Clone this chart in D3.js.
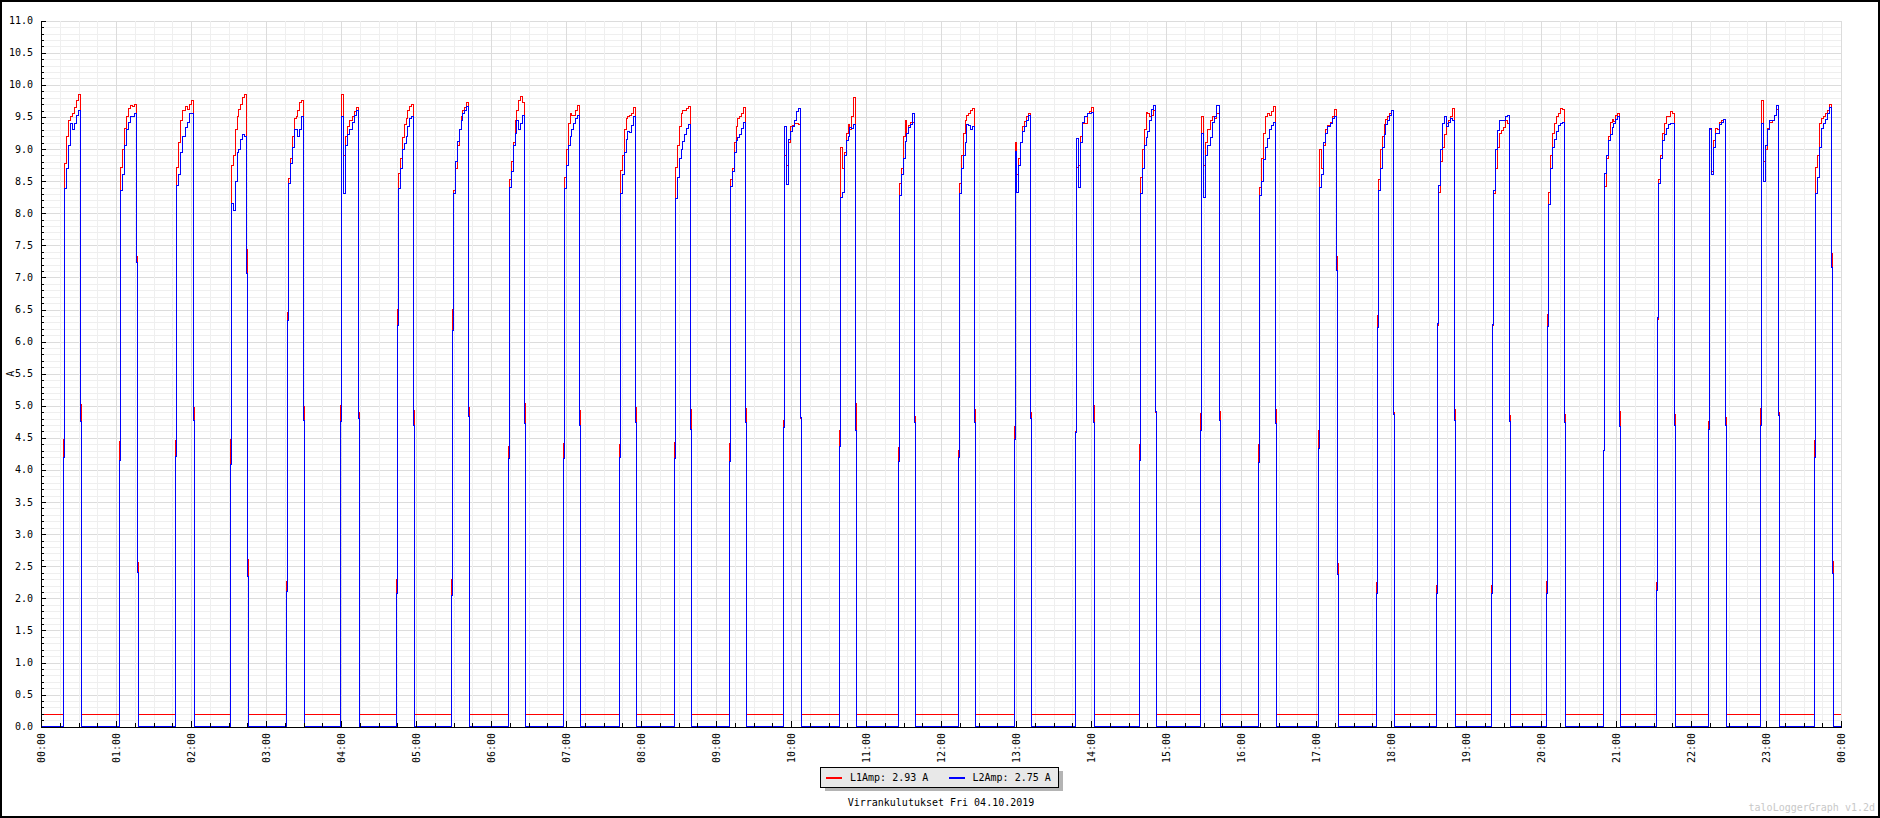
<!DOCTYPE html>
<html>
<head>
<meta charset="utf-8">
<script src="https://cdn.jsdelivr.net/npm/d3@7"></script>
<style>
    html, body { margin: 0; padding: 0; background: #fff; }
    svg { display: block; }
    text { font-family: "DejaVu Sans Mono", monospace; font-size: 10px; fill: #000; }
</style>
</head>
<body>
<div id="chart"></div>
<script>
// Cycle timing, minutes after midnight (main rise and fall of the run)
const runStart = [18.7, 63.5, 108.3, 152.3, 198.1, 240.3, 286.1, 330.1, 374.7, 418.7, 463.5, 507.5, 551.5, 595, 639.7, 686.7,
    734.7, 779.2, 828.3, 879.5, 928, 974.7, 1022.7, 1069.9, 1117.9, 1161.9, 1205.9, 1250.7, 1293.9, 1334.7, 1376.3, 1419.5];
const runEnd = [31.5, 76.3, 122.1, 164.3, 209.9, 253.9, 297.9, 341.9, 386.7, 430.7, 475.5, 519.5, 563.5, 607.5, 651.5, 698.7,
    746.7, 791.5, 841.9, 891.5, 942.4, 987.5, 1036.3, 1081.9, 1130.7, 1174.7, 1218.7, 1262.9, 1306.7, 1347.5, 1389.9, 1432.3];

// idle level
const l1Idle = 0.19;
const l2Idle = 0.0;

// samples while switching on / off
const l1Up = [[4.48], [4.44], [4.46], [4.47], [2.27, 6.46], [5.0], [2.29, 6.5], [2.29, 6.5], [4.36], [4.41], [4.4], [4.43], [4.41], [4.77], [4.61], [4.35],
    [4.3], [4.68], [4.6], [4.4], [4.88], [4.4], [4.61], [2.24, 6.4], [2.2, 6.25], [2.2, 6.25], [2.26, 6.43], [4.3], [2.24, 6.35], [4.75], [4.96], [4.46]];
const l2Up = [[4.19], [4.14], [4.21], [4.08], [2.1, 6.33], [4.75], [2.07, 6.25], [2.05, 6.18], [4.18], [4.18], [4.19], [4.18], [4.13], [4.66], [4.36], [4.13],
    [4.2], [4.47], [4.58], [4.15], [4.61], [4.11], [4.33], [2.07, 6.22], [2.08, 6.28], [2.08, 6.27], [2.07, 6.24], [4.3], [2.12, 6.37], [4.63], [4.7], [4.19]];
const l1Down = [[5.02], [7.32, 2.56], [4.97], [7.44, 2.6], [4.99], [4.9], [4.93], [4.97], [5.04], [4.93], [4.97], [4.94], [4.96], [4.8], [5.04], [4.83],
    [4.94], [4.9], [5.0], [4.9], [4.91], [4.94], [7.32, 2.55], [4.9], [4.95], [4.85], [4.86], [4.91], [4.86], [4.82], [4.9], [7.38, 2.57]];
const l2Down = [[4.76], [7.24, 2.4], [4.77], [7.06, 2.34], [4.77], [4.8], [4.7], [4.83], [4.73], [4.7], [4.74], [4.63], [4.74], [4.82], [4.61], [4.74],
    [4.74], [4.8], [4.74], [4.91], [4.77], [4.72], [7.11, 2.37], [4.86], [4.77], [4.75], [4.74], [4.68], [4.7], [4.7], [4.85], [7.16, 2.38]];

// running current, read across each run
const l1Run = [
    [8.78, 9.2, 9.45, 9.5, 9.55, 9.65, 9.75, 9.85],
    [8.72, 9.0, 9.32, 9.5, 9.63, 9.68, 9.66, 9.7],
    [8.72, 9.1, 9.45, 9.6, 9.66, 9.62, 9.7, 9.76],
    [8.75, 8.9, 9.3, 9.5, 9.62, 9.7, 9.8, 9.85],
    [8.54, 8.85, 9.2, 9.48, 9.5, 9.6, 9.72, 9.76],
    [9.85, 8.9, 9.2, 9.35, 9.45, 9.5, 9.58, 9.64],
    [8.62, 8.85, 9.18, 9.38, 9.47, 9.6, 9.66, 9.7],
    [8.35, 8.7, 9.05, 9.3, 9.5, 9.6, 9.65, 9.72],
    [8.52, 8.8, 9.1, 9.45, 9.6, 9.75, 9.82, 9.72],
    [8.55, 9.0, 9.4, 9.56, 9.52, 9.52, 9.6, 9.68],
    [8.67, 8.9, 9.3, 9.47, 9.5, 9.52, 9.56, 9.65],
    [8.72, 9.05, 9.35, 9.55, 9.6, 9.6, 9.63, 9.66],
    [8.52, 8.7, 9.1, 9.35, 9.47, 9.5, 9.56, 9.65],
    [8.9, 8.75, 9.1, 9.35, 9.37, 9.4, 9.4, 9.38],
    [9.03, 8.7, 8.95, 9.24, 9.38, 9.3, 9.5, 9.8],
    [8.46, 8.7, 9.2, 9.45, 9.25, 9.36, 9.42, 9.42],
    [8.46, 8.9, 9.24, 9.45, 9.52, 9.55, 9.6, 9.63],
    [9.1, 8.6, 8.85, 9.1, 9.35, 9.43, 9.5, 9.55],
    [8.72, 8.75, 9.2, 9.4, 9.4, 9.55, 9.58, 9.65],
    [8.55, 9.0, 9.3, 9.57, 9.56, 9.5, 9.52, 9.6],
    [9.5, 8.75, 9.1, 9.3, 9.45, 9.5, 9.47, 9.55],
    [8.4, 8.85, 9.24, 9.5, 9.55, 9.53, 9.58, 9.66],
    [9.0, 8.7, 9.05, 9.3, 9.36, 9.42, 9.5, 9.62],
    [8.52, 9.0, 9.2, 9.38, 9.46, 9.5, 9.56, 9.6],
    [8.33, 8.8, 9.03, 9.22, 9.4, 9.44, 9.5, 9.63],
    [8.3, 8.7, 9.03, 9.25, 9.29, 9.34, 9.45, 9.4],
    [8.33, 8.9, 9.24, 9.4, 9.5, 9.56, 9.63, 9.62],
    [8.41, 8.85, 9.2, 9.42, 9.46, 9.43, 9.52, 9.56],
    [8.52, 8.9, 9.24, 9.4, 9.5, 9.5, 9.58, 9.56],
    [9.3, 8.65, 9.14, 9.32, 9.3, 9.41, 9.45, 9.46],
    [9.75, 8.8, 9.0, 9.32, 9.41, 9.45, 9.52, 9.62],
    [8.72, 8.9, 9.4, 9.48, 9.5, 9.56, 9.6, 9.7]
];
const l2Run = [
    [8.38, 8.7, 9.06, 9.4, 9.3, 9.4, 9.53, 9.6],
    [8.35, 8.6, 9.05, 9.3, 9.42, 9.5, 9.5, 9.55],
    [8.44, 8.6, 8.95, 9.2, 9.33, 9.42, 9.55, 9.55],
    [8.15, 8.05, 8.5, 8.95, 9.0, 9.15, 9.22, 9.2],
    [8.46, 8.77, 9.03, 9.3, 9.3, 9.2, 9.3, 9.5],
    [9.5, 8.3, 9.05, 9.22, 9.3, 9.42, 9.52, 9.6],
    [8.38, 8.7, 9.0, 9.08, 9.2, 9.35, 9.48, 9.5],
    [8.3, 8.8, 9.12, 9.3, 9.45, 9.55, 9.6, 9.66],
    [8.4, 8.65, 9.05, 9.25, 9.45, 9.3, 9.4, 9.52],
    [8.38, 8.75, 9.05, 9.2, 9.3, 9.4, 9.48, 9.53],
    [8.3, 8.6, 8.95, 9.15, 9.27, 9.26, 9.37, 9.5],
    [8.23, 8.55, 8.85, 9.0, 9.12, 9.22, 9.32, 9.38],
    [8.41, 8.65, 8.95, 9.14, 9.18, 9.22, 9.32, 9.42],
    [9.35, 8.45, 9.15, 9.28, 9.35, 9.45, 9.58, 9.63],
    [8.25, 8.32, 8.9, 9.14, 9.2, 9.33, 9.32, 9.38],
    [8.28, 8.6, 8.85, 9.12, 9.25, 9.33, 9.38, 9.55],
    [8.3, 8.7, 8.9, 9.1, 9.38, 9.37, 9.3, 9.35],
    [8.96, 8.33, 8.75, 9.1, 9.28, 9.35, 9.45, 9.52],
    [9.16, 8.4, 9.1, 9.42, 9.5, 9.55, 9.55, 9.57],
    [8.3, 8.7, 9.05, 9.18, 9.28, 9.45, 9.62, 9.68],
    [9.24, 8.25, 8.9, 9.05, 9.18, 9.42, 9.5, 9.68],
    [8.28, 8.5, 8.83, 9.02, 9.16, 9.3, 9.37, 9.42],
    [8.4, 8.6, 9.1, 9.25, 9.35, 9.4, 9.47, 9.5],
    [8.36, 8.7, 9.03, 9.22, 9.38, 9.45, 9.52, 9.6],
    [8.44, 9.0, 9.4, 9.5, 9.35, 9.42, 9.47, 9.45],
    [8.36, 9.0, 9.29, 9.45, 9.45, 9.45, 9.5, 9.53],
    [8.13, 8.7, 9.03, 9.15, 9.27, 9.36, 9.4, 9.42],
    [8.62, 8.9, 9.13, 9.22, 9.33, 9.4, 9.46, 9.5],
    [8.46, 8.85, 9.14, 9.22, 9.32, 9.38, 9.4, 9.4],
    [9.32, 8.6, 9.03, 9.25, 9.25, 9.38, 9.42, 9.46],
    [9.4, 8.5, 9.05, 9.3, 9.45, 9.45, 9.53, 9.68],
    [8.3, 8.55, 9.03, 9.32, 9.4, 9.46, 9.55, 9.65]
];

const yTicks = d3.range(0, 11.01, 0.5);
const legendItems = [
    { name: "L1Amp: 2.93 A", color: "#ff0000" },
    { name: "L2Amp: 2.75 A", color: "#0000ff" }
];
const chartTitle = "Virrankulutukset Fri 04.10.2019";
const versionText = "taloLoggerGraph v1.2d";

const W = 1880, H = 818;
const plot = { left: 41, right: 1841, top: 20.7, bottom: 726.7 };
const day0 = new Date(2019, 9, 4);
const day1 = new Date(2019, 9, 5);
const at = m => new Date(+day0 + m * 60000);
const step = 0.8; // one logger sample ~ one pixel

const x = d3.scaleTime().domain([day0, day1]).range([plot.left, plot.right]);
const y = d3.scaleLinear().domain([0, 11]).range([plot.bottom, plot.top]);

// Build a step series from the cycle tables
function buildSeries(idle, up, run, down) {
    const pts = [{ t: 0, v: idle }];
    runStart.forEach((s, i) => {
        const e = runEnd[i];
        up[i].forEach((v, j) => pts.push({ t: s - step * (up[i].length - j), v }));
        const n = run[i].length;
        run[i].forEach((v, j) => pts.push({ t: s + j * (e - s) / n, v }));
        down[i].forEach((v, j) => pts.push({ t: e + step * j, v }));
        pts.push({ t: e + step * down[i].length, v: idle });
    });
    pts.push({ t: 1440, v: idle });
    return pts;
}

const l1 = buildSeries(l1Idle, l1Up, l1Run, l1Down);
const l2 = buildSeries(l2Idle, l2Up, l2Run, l2Down);

const svg = d3.select("#chart")
    .append("svg")
    .attr("width", W)
    .attr("height", H);

svg.append("rect")
    .attr("width", W)
    .attr("height", H)
    .attr("fill", "#fff");

// Grid
const grid = svg.append("g").attr("shape-rendering", "crispEdges");
grid.selectAll("line.hminor")
    .data(d3.range(0, 111).map(d => d / 10))
    .join("line")
    .attr("x1", plot.left).attr("x2", plot.right)
    .attr("y1", d => Math.round(y(d)) + 0.5).attr("y2", d => Math.round(y(d)) + 0.5)
    .attr("stroke", d => Math.round(d * 10) % 5 === 0 ? "#dcdcdc" : "#efefef");
grid.selectAll("line.vgrid")
    .data(x.ticks(d3.timeMinute.every(15)))
    .join("line")
    .attr("x1", d => Math.round(x(d)) + 0.5).attr("x2", d => Math.round(x(d)) + 0.5)
    .attr("y1", plot.top).attr("y2", plot.bottom)
    .attr("stroke", d => d.getMinutes() === 0 ? "#dcdcdc" : "#efefef");

// Data lines
const line = d3.line()
    .x(d => x(at(d.t)))
    .y(d => y(d.v))
    .curve(d3.curveStepAfter);

svg.append("path")
    .datum(l1)
    .attr("d", line)
    .attr("fill", "none")
    .attr("stroke", "#ff0000")
    .attr("stroke-width", 1)
    .attr("shape-rendering", "crispEdges");

svg.append("path")
    .datum(l2)
    .attr("d", line)
    .attr("fill", "none")
    .attr("stroke", "#0000ff")
    .attr("stroke-width", 1)
    .attr("shape-rendering", "crispEdges");

// Axes
const axes = svg.append("g").attr("shape-rendering", "crispEdges").attr("stroke", "#000");
axes.append("line")
    .attr("x1", plot.left + 0.5).attr("x2", plot.left + 0.5)
    .attr("y1", plot.top).attr("y2", plot.bottom + 1);
axes.append("line")
    .attr("x1", plot.left).attr("x2", plot.right + 1)
    .attr("y1", Math.round(plot.bottom) + 0.5).attr("y2", Math.round(plot.bottom) + 0.5);

axes.selectAll("line.ytick")
    .data(d3.range(0, 111))
    .join("line")
    .attr("x1", plot.left)
    .attr("x2", d => plot.left + (d % 5 === 0 ? 4.5 : 3))
    .attr("y1", d => Math.round(y(d / 10)) + 0.5)
    .attr("y2", d => Math.round(y(d / 10)) + 0.5);

axes.selectAll("line.xtick")
    .data(x.ticks(d3.timeMinute.every(15)))
    .join("line")
    .attr("x1", d => Math.round(x(d)) + 0.5).attr("x2", d => Math.round(x(d)) + 0.5)
    .attr("y1", plot.bottom)
    .attr("y2", d => plot.bottom - (d.getMinutes() === 0 ? 6 : 4));

svg.append("g").selectAll("text")
    .data(yTicks)
    .join("text")
    .attr("x", 33)
    .attr("y", d => y(d))
    .attr("dy", "0.35em")
    .attr("text-anchor", "end")
    .text(d3.format(".1f"));

svg.append("g").selectAll("text")
    .data(x.ticks(d3.timeHour.every(1)))
    .join("text")
    .attr("transform", d => `translate(${x(d)},733) rotate(-90)`)
    .attr("dy", "0.35em")
    .attr("text-anchor", "end")
    .text(d3.timeFormat("%H:%M"));

svg.append("text")
    .attr("transform", `translate(10,${(plot.top + plot.bottom) / 2}) rotate(-90)`)
    .attr("dy", "0.35em")
    .attr("text-anchor", "middle")
    .text("A");

// Legend
const legend = svg.append("g").attr("shape-rendering", "crispEdges");
legend.append("rect")
    .attr("x", 825).attr("y", 771).attr("width", 238).attr("height", 20)
    .attr("fill", "#b4b4b4");
legend.append("rect")
    .attr("x", 820.5).attr("y", 767.5).attr("width", 238).attr("height", 20)
    .attr("fill", "#e8e8e8").attr("stroke", "#000");

const item = legend.selectAll("g.item")
    .data(legendItems)
    .join("g")
    .attr("transform", (d, i) => `translate(${826 + i * 122.5},777.5)`);
item.append("line")
    .attr("x1", 0).attr("x2", 16)
    .attr("stroke", d => d.color)
    .attr("stroke-width", 2);
item.append("text")
    .attr("x", 24)
    .attr("dy", "0.35em")
    .text(d => d.name);

svg.append("text")
    .attr("x", (plot.left + plot.right) / 2)
    .attr("y", 802)
    .attr("dy", "0.35em")
    .attr("text-anchor", "middle")
    .text(chartTitle);

svg.append("text")
    .attr("x", 1875)
    .attr("y", 811)
    .attr("text-anchor", "end")
    .style("fill", "#c8c8c8")
    .text(versionText);

// Outer frame
svg.append("rect")
    .attr("x", 1).attr("y", 1)
    .attr("width", W - 2).attr("height", H - 2)
    .attr("fill", "none")
    .attr("stroke", "#000")
    .attr("stroke-width", 2);
</script>
</body>
</html>
